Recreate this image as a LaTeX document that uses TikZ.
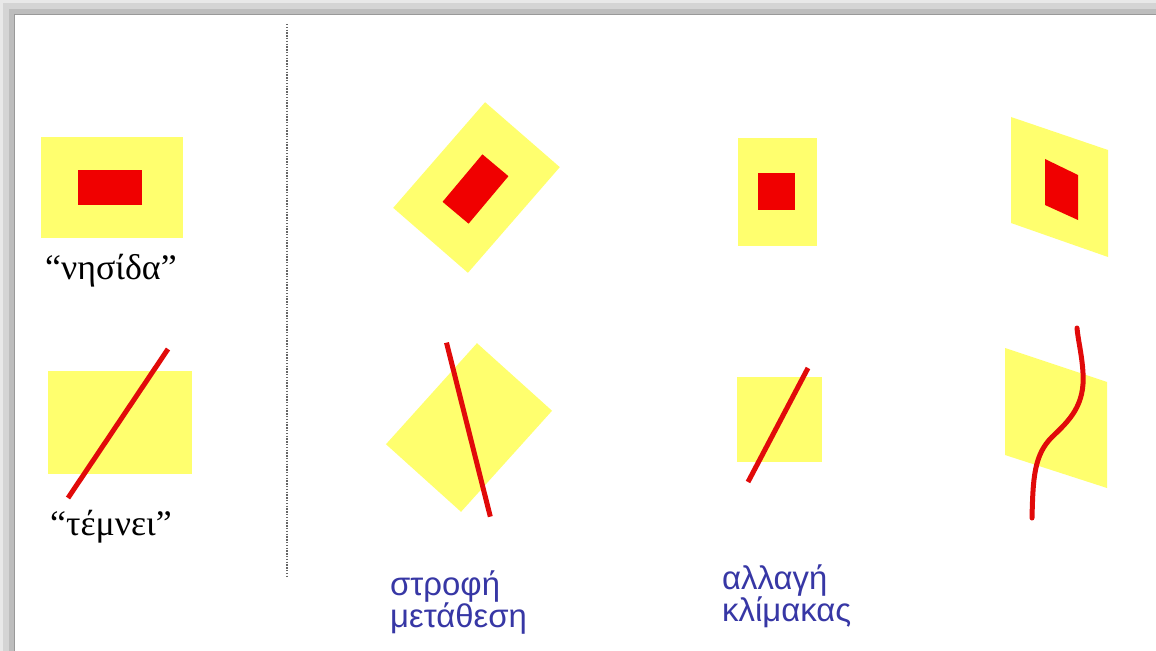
\documentclass[tikz,border=0pt]{standalone}
\usepackage{fontspec}
\setmainfont{Liberation Serif}
\newfontfamily\arialg{Liberation Sans}
\definecolor{yelc}{RGB}{255,255,110}
\definecolor{redc}{RGB}{240,0,0}
\definecolor{redl}{RGB}{225,10,10}
\definecolor{bluec}{RGB}{55,55,165}
\tikzset{
  yel/.style={fill=yelc},
  redbox/.style={fill=redc},
  redline/.style={draw=redl, line width=5bp, line cap=butt},
  serlbl/.style={font=\fontsize{36}{42}\selectfont, anchor=base west, inner sep=0pt},
  blulbl/.style={font=\arialg\fontsize{33}{32}\selectfont, text=bluec, anchor=base west, inner sep=0pt, align=left},
}
\begin{document}
\begin{tikzpicture}[x=1bp, y=-1bp]
\useasboundingbox (0,0) rectangle (1156,651);
\fill[white] (0,0) rectangle (1156,651);
% frame shadow (top and left)
\fill[black!9] (0,0) rectangle (1156,14);
\fill[black!9] (0,0) rectangle (14,651);
\fill[black!17] (3,3) rectangle (1156,14);
\fill[black!17] (3,3) rectangle (14,651);
\fill[black!26] (9,9) rectangle (1156,14);
\fill[black!26] (9,9) rectangle (14,651);
\draw[black!40, line width=1.2bp] (14,14.5) -- (1156,14.5);
\draw[black!40, line width=1.2bp] (14.5,14) -- (14.5,651);
% dotted separator
\coordinate (sepTop) at (287,24);
\coordinate (sepBot) at (287,577);
\draw[black!60, line width=1.4bp, dash pattern=on 1.4bp off 1.4bp] (sepTop) -- (sepBot);

% left: island
\fill[yel] (41,137) rectangle (183,238);
\fill[redbox] (78,170) rectangle (142,205);
\node[serlbl] (nisida) at (45,279) {“νησίδα”};
% left: crossing
\fill[yel] (48,371) rectangle (192,474);
\draw[redline] (68,498) -- (168,349);
\node[serlbl] (temnei) at (50,535) {“τέμνει”};

% middle: rotation / translation
\begin{scope}[shift={(476.5,187.5)}, rotate=49]
  \fill[yel] (-70,-49.5) rectangle (70,49.5);
\end{scope}
\begin{scope}[shift={(475.5,189)}, rotate=50]
  \fill[redbox] (-31,-17) rectangle (31,17);
\end{scope}
\begin{scope}[shift={(469,427.5)}, rotate=48]
  \fill[yel] (-68,-50.5) rectangle (68,50.5);
  \draw[redline] (-52,75.5) -- (48,-73.5);
\end{scope}
\node[blulbl] (strofi) at (390,627) {στροφή\\μετάθεση};

% scale
\fill[yel] (738,138) rectangle (817,246);
\fill[redbox] (758,173) rectangle (795,210);
\fill[yel] (737,377) rectangle (822,462);
\draw[redline] (748,482) -- (808,368);
\node[blulbl] (allagi) at (722,621) {αλλαγή\\κλίμακας};

% right: general deformation
\fill[yel] (1011,117) -- (1108,150) -- (1108,257) -- (1011,223) -- cycle;
\fill[redbox] (1045,159) -- (1078,175) -- (1078,220) -- (1045,205) -- cycle;
\fill[yel] (1005,348) -- (1107,382) -- (1107,488) -- (1005,455) -- cycle;
\draw[redline, line cap=round] (1032,518) .. controls (1033,478) and (1034,455) .. (1052,437)
  .. controls (1070,420) and (1085,405) .. (1083,373)
  .. controls (1082,355) and (1078,340) .. (1077,328);
\end{tikzpicture}
\end{document}
